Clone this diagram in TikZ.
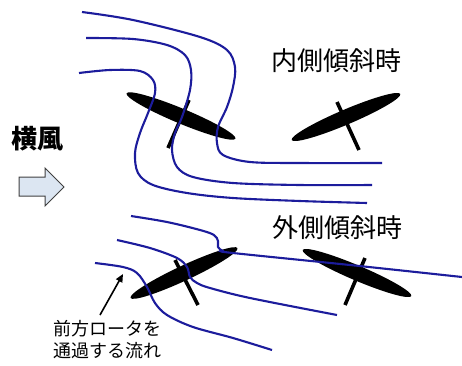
\documentclass[tikz,border=0pt]{standalone}
\usepackage{fontspec}
\newfontfamily\jp{Noto Sans CJK JP}
\usetikzlibrary{arrows.meta}
\definecolor{flowblue}{HTML}{1C1C9C}
\definecolor{arrowfill}{HTML}{DCE6F2}
\definecolor{arrowedge}{HTML}{404040}
\tikzset{
  flow/.style={draw=flowblue, line width=2.1pt, smooth, tension=0.55},
  blade/.style={fill=black},
  shaft/.style={draw=black, line width=3.6pt},
  title/.style={font=\jp\fontsize{26}{30}\selectfont, inner sep=0pt},
  note/.style={font=\jp\fontsize{18}{22}\selectfont, align=left, inner sep=0pt},
  pointer/.style={draw=black, line width=1.6pt, -{Triangle[length=8pt, width=7pt]}}
}
\begin{document}
\begin{tikzpicture}[x=1pt, y=-1pt]
\useasboundingbox (0,0) rectangle (462,365);

% ---- crosswind label and block arrow
\node[title, font=\jp\bfseries\fontsize{26}{30}\selectfont] (wind) at (37,139) {横風};
\draw[fill=arrowfill, draw=arrowedge, line width=1pt]
  (19,177) -- (45,177) -- (45,168) -- (64,187) -- (45,206) -- (45,196) -- (19,196) -- cycle;

% ---- upper case: inward tilt
\node[title] (inner) at (336,61) {内側傾斜時};

% rotors
\fill[blade, rotate around={-22.6:(181,116)}] (181,116) ellipse (59 and 7.5);
\draw[shaft] (189,100) -- (168,148);
\fill[blade, rotate around={23:(346,117)}] (346,117) ellipse (59 and 7.5);
\draw[shaft] (337,102) -- (359,150);

% streamlines
\draw[flow] plot coordinates {(82,12) (133,20) (200,37) (227,50) (235,67) (233,87) (227,107) (218,127) (217,143) (223,155) (250,162) (300,163) (382,163)};
\draw[flow] plot coordinates {(86,38) (133,39) (167,45) (185,55) (191,70) (190,90) (182,117) (175,133) (172,150) (177,167) (193,177) (233,183) (300,185) (372,185)};
\draw[flow] plot coordinates {(79,73) (110,70) (140,71) (153,80) (155,93) (148,113) (140,133) (135,153) (138,173) (153,185) (187,193) (233,198) (300,201) (367,203)};

% ---- lower case: outward tilt
\node[title] (outer) at (337,228) {外側傾斜時};

% rotors
\fill[blade, rotate around={25:(184,273)}] (184,273) ellipse (59 and 7.5);
\draw[shaft] (175,260) -- (198,305);
\fill[blade, rotate around={-23:(357,273)}] (357,273) ellipse (59 and 7.5);
\draw[shaft] (365,258) -- (345,305);

% streamlines
\draw[flow] plot coordinates {(131,216) (167,222) (200,230) (214,235) (218,241) (218,247) (223,251) (233,253) (350,265) (462,277)};
\draw[flow] plot coordinates {(117,240) (150,248) (177,258) (187,267) (190,277) (197,283) (210,288) (250,298) (337,315)};
\draw[flow] plot coordinates {(95,263) (123,267) (137,273) (147,287) (155,303) (167,315) (193,327) (233,338) (272,350)};

% ---- annotation for the flow through the front rotor
\node[note, anchor=north west] (frontflow) at (53,320) {前方ロータを\\通過する流れ};
\coordinate (tip) at (123,274);
\draw[pointer] (100,315) -- (tip);
\end{tikzpicture}
\end{document}
